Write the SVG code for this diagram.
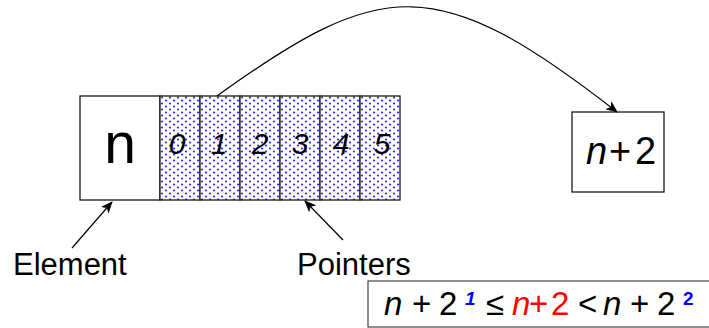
<svg xmlns="http://www.w3.org/2000/svg" width="709" height="328" viewBox="0 0 709 328">
<defs>
<pattern id="dots" patternUnits="userSpaceOnUse" x="160" y="96" width="8" height="6">
<rect width="8" height="6" fill="#ffffff"/>
<circle cx="2" cy="1.5" r="1.1" fill="#2a2aff"/>
<circle cx="6" cy="4.5" r="1.1" fill="#2a2aff"/>
</pattern>
<marker id="ah" markerWidth="12" markerHeight="10" refX="11" refY="5" orient="auto" markerUnits="userSpaceOnUse">
<path d="M0,0 L12,5 L0,10 L3,5 Z" fill="#000"/>
</marker>
</defs>
<style>
.box{fill:#fff;stroke:#1a1a1a;stroke-width:1.3}
.cell{fill:url(#dots);stroke:#1a1a1a;stroke-width:1.3}
.t{font-family:"Liberation Sans",Arial,sans-serif;fill:#000}
.i{font-style:italic}
.conn{fill:none;stroke:#000;stroke-width:1.2}
</style>
<g id="element">
<rect class="box" x="80" y="96" width="80" height="104"/>
<text class="t" x="120" y="163" font-size="57" text-anchor="middle">n</text>
</g>
<g id="pointers">
<rect class="cell" x="160" y="96" width="40" height="104"/>
<rect class="cell" x="200" y="96" width="40" height="104"/>
<rect class="cell" x="240" y="96" width="40" height="104"/>
<rect class="cell" x="280" y="96" width="40" height="104"/>
<rect class="cell" x="320" y="96" width="40" height="104"/>
<rect class="cell" x="360" y="96" width="40" height="104"/>
<g class="t i" font-size="30" text-anchor="middle">
<text x="177" y="154">0</text>
<text x="219" y="154">1</text>
<text x="260" y="154">2</text>
<text x="300" y="154">3</text>
<text x="341" y="154">4</text>
<text x="382" y="154">5</text>
</g>
</g>
<g id="target">
<rect class="box" x="572" y="112" width="92" height="80"/>
<text class="t" y="164" font-size="38"><tspan class="i" x="586">n</tspan><tspan x="609">+</tspan><tspan x="635">2</tspan></text>
</g>
<g id="label-element">
<text class="t" x="13" y="275" font-size="31">Element</text>
</g>
<g id="label-pointers">
<text class="t" x="297" y="275" font-size="31">Pointers</text>
</g>
<g id="formula">
<rect x="368" y="281" width="400" height="46" fill="#fff" stroke="#444" stroke-width="1.2"/>
<text class="t" y="315" font-size="33"><tspan class="i" x="384">n</tspan><tspan x="412">+</tspan><tspan x="439">2</tspan></text>
<text class="t" x="465" y="305" font-size="19" font-weight="bold" font-style="italic" style="fill:#0000ff">1</text>
<text class="t" x="486" y="315" font-size="33">≤</text>
<text class="t" y="315" font-size="33" style="fill:#ff0000"><tspan class="i" x="512">n</tspan><tspan x="529">+</tspan><tspan x="551">2</tspan></text>
<text class="t" x="578" y="315" font-size="33">&lt;</text>
<text class="t" y="315" font-size="33"><tspan class="i" x="603">n</tspan><tspan x="630">+</tspan><tspan x="657">2</tspan></text>
<text class="t" x="683" y="305" font-size="19" font-weight="bold" style="fill:#0000ff">2</text>
</g>
<g id="connectors">
<path class="conn" d="M217,96 C382,-22.8 437,-28.4 617,112" marker-end="url(#ah)"/>
<line class="conn" x1="72" y1="248" x2="112" y2="202" marker-end="url(#ah)"/>
<line class="conn" x1="343" y1="240" x2="305" y2="201" marker-end="url(#ah)"/>
</g>
</svg>
